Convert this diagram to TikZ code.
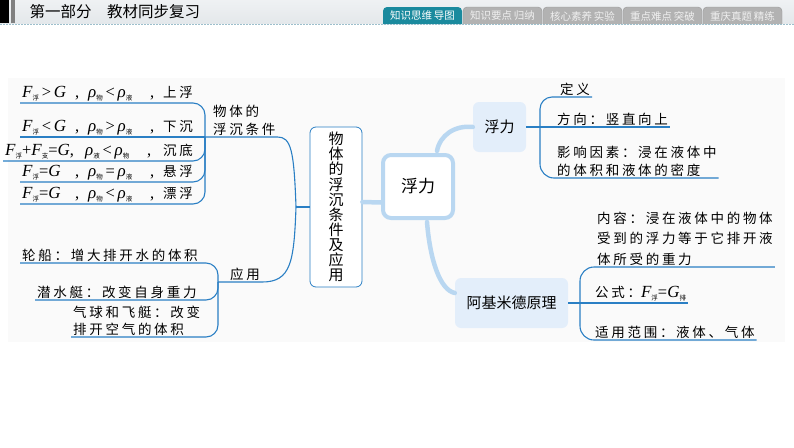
\documentclass[tikz,border=0pt]{standalone}
\usepackage{fontspec}
\setmainfont{Liberation Serif}
\newfontfamily\cjk{Noto Sans CJK SC}
\newfontfamily\cjkleaf[LetterSpace=20]{Noto Sans CJK SC}
\usetikzlibrary{positioning, calc}

\definecolor{linkblue}{HTML}{2A7FC4}
\definecolor{paleblue}{HTML}{B9D7F1}
\definecolor{boxfill}{HTML}{E3EEFA}
\definecolor{tabteal}{HTML}{1A8A9E}
\definecolor{tabgray}{HTML}{B2B2B2}
\definecolor{headbg}{HTML}{E4E8EB}
\definecolor{dashline}{HTML}{9DBFCC}

% quantity with a small Chinese subscript
\newcommand{\phy}[2]{{\fontsize{17}{19}\rmfamily\itshape #1}\raisebox{-0.4ex}{\fontsize{6.5}{7}\cjk #2}}
\newcommand{\sym}[1]{{\fontsize{16.5}{19}\rmfamily\upshape #1}}
\newcommand{\cond}[3]{\makebox[53pt][l]{#1}\makebox[13pt][l]{\sym{,}}\makebox[62pt][l]{#2}\makebox[13pt][l]{\sym{,}}#3}

\begin{document}
\begin{tikzpicture}[
    x=1pt, y=-1pt,
    hub/.style={draw=paleblue, line width=4pt, rounded corners=8pt, fill=white, minimum width=70pt, minimum height=63pt, font=\cjk\fontsize{17}{20}\selectfont},
    topic/.style={fill=boxfill, rounded corners=6pt, font=\cjk\fontsize{15}{18}\selectfont},
    vbox/.style={draw=linkblue, line width=0.8pt, rounded corners=6pt, fill=white, minimum width=52pt, minimum height=160pt, align=center, font=\cjk\fontsize{15}{15.1}\selectfont},
    leaf/.style={anchor=south west, inner xsep=2pt, inner ysep=1.5pt, align=left, font=\cjkleaf\fontsize{13.5}{18}\selectfont},
    link/.style={draw=linkblue, line width=1.1pt},
    thick link/.style={draw=paleblue, line width=4.5pt, line cap=round},
    tabtext/.style={font=\cjk\fontsize{10.5}{12}\selectfont, inner sep=0pt}
]
    \useasboundingbox (0,0) rectangle (794,447);

    % Header
    \shade[top color=headbg!60, bottom color=headbg] (0,0) rectangle (794,23);
    \fill[black] (0,0) rectangle (9,23);
    \fill[gray] (11,0) rectangle (15,23);
    \node[anchor=west, font=\cjk\fontsize{15.5}{18}\selectfont] (title) at (26,12) {第一部分\hspace{1em}教材同步复习};
    \path[fill=tabteal, rounded corners=4pt] (383,24) -- (383,7) -- (462,7) -- (462,24);
    \node[tabtext, text=white] (tab1) at (422.5,16) {知识思维\,导图};
    \foreach \x/\txt [count=\i] in {463/知识要点\,归纳, 543/核心素养\,实验, 623/重点难点\,突破, 703/重庆真题\,精练} {
        \path[fill=tabgray, draw=gray!80, rounded corners=4pt] (\x,24) -- (\x,7) -- (\x+79,7) -- (\x+79,24);
        \node[tabtext, text=white!88!gray] (tab\i) at (\x+39.5,16) {\txt};
    }
    \draw[dashline, dash pattern=on 2pt off 1pt] (0,24.5) -- (794,24.5);

    % Map background
    \fill[black!2] (8,78) rectangle (785,342);

    % Main nodes
    \node[hub] (hub) at (418,186.5) {浮力};
    \node[vbox] (vert) at (336,207) {物\\体\\的\\浮\\沉\\条\\件\\及\\应\\用};
    \node[topic, minimum width=53pt, minimum height=50pt] (fl) at (499.5,127) {浮力};
    \node[topic, minimum width=113pt, minimum height=50pt] (archi) at (511.5,303) {阿基米德原理};

    % Sinking and floating conditions
    \node[leaf] (tj) at (211,137) {物体的\\浮沉条件};
    \node[leaf] (c1) at (20,103) {\cond{\phy{F}{浮}\sym{\,>\,}\phy{G}{}}{\phy{ρ}{物}\sym{\,<\,}\phy{ρ}{液}}{上浮}};
    \node[leaf] (c2) at (20,137) {\cond{\phy{F}{浮}\sym{\,<\,}\phy{G}{}}{\phy{ρ}{物}\sym{\,>\,}\phy{ρ}{液}}{下沉}};
    \node[leaf] (c3) at (3,161) {\makebox[80pt][l]{\phy{F}{浮}\sym{+}\phy{F}{支}\sym{=}\phy{G}{}\sym{,}}\makebox[62pt][l]{\phy{ρ}{液}\sym{\,<\,}\phy{ρ}{物}}\makebox[16pt][l]{\sym{,}}沉底};
    \node[leaf] (c4) at (20,182) {\cond{\phy{F}{浮}\sym{=}\phy{G}{}}{\phy{ρ}{物}\sym{\,=\,}\phy{ρ}{液}}{悬浮}};
    \node[leaf] (c5) at (20,204) {\cond{\phy{F}{浮}\sym{=}\phy{G}{}}{\phy{ρ}{物}\sym{\,<\,}\phy{ρ}{液}}{漂浮}};

    % Applications
    \node[leaf] (yy) at (228,282) {应用};
    \node[leaf] (a1) at (20,263) {轮船：增大排开水的体积};
    \node[leaf] (a2) at (35,300) {潜水艇：改变自身重力};
    \node[leaf, font=\cjkleaf\fontsize{13.5}{17}\selectfont] (a3) at (71,337) {气球和飞艇：改变\\排开空气的体积};

    % Buoyancy
    \node[leaf] (d1) at (558,97) {定义};
    \node[leaf] (d2) at (555,127) {方向：竖直向上};
    \node[leaf] (d3) at (555,178) {影响因素：浸在液体中\\的体积和液体的密度};

    % Archimedes
    \node[leaf, font=\cjkleaf\fontsize{13.5}{20.5}\selectfont] (p1) at (595,267) {内容：浸在液体中的物体\\受到的浮力等于它排开液\\体所受的重力\hspace{8pt}};
    \node[leaf] (p2) at (593,303) {公式：\phy{F}{浮}\sym{=}\phy{G}{排}};
    \node[leaf] (p3) at (593,340) {适用范围：液体、气体};

    % Connectors
    \coordinate (lstem) at (296,207);
    \coordinate (cb) at (205,137);
    \coordinate (ab) at (218,282);
    \coordinate (fb) at (540,127);
    \coordinate (ab2) at (580,303);

    \draw[thick link] ($(vert.east)+(0,-5)$) -- ($(hub.west)+(0,16)$);
    \draw[thick link] ($(hub.north)+(19,-2)$) .. controls (440,135) and (455,125) .. (fl.west);
    \draw[thick link] ($(hub.south)+(9,2)$) .. controls (430,260) and (440,290) .. ($(archi.west)+(0,-10)$);

    \draw[link] (vert.west) -- (lstem);
    \draw[link] (lstem) .. controls (294,150) and (291,137) .. (tj.south east) -- (cb);
    \draw[link] (lstem) .. controls (294,262) and (291,282) .. (yy.south east) -- (ab);
    \draw[link, rounded corners=12pt] (cb) |- (c1.south west);
    \draw[link] (cb) -- (c2.south west);
    \draw[link, rounded corners=12pt] (cb) |- (c3.south west);
    \draw[link, rounded corners=12pt] (cb) |- (c4.south west);
    \draw[link, rounded corners=12pt] (cb) |- (c5.south west);
    \draw[link, rounded corners=12pt] (ab) |- (a1.south west);
    \draw[link, rounded corners=12pt] (ab) |- (a2.south west);
    \draw[link, rounded corners=12pt] (ab) |- (a3.south west);

    \draw[link] (fl.east) -- (d2.south east);
    \draw[link, rounded corners=12pt] (fb) |- (d1.south east);
    \draw[link, rounded corners=14pt] (fb) |- (d3.south east);
    \draw[link] (archi.east) -- (p2.south east);
    \draw[link, rounded corners=14pt] (ab2) |- (p1.south east);
    \draw[link, rounded corners=14pt] (ab2) |- (p3.south east);
\end{tikzpicture}
\end{document}
